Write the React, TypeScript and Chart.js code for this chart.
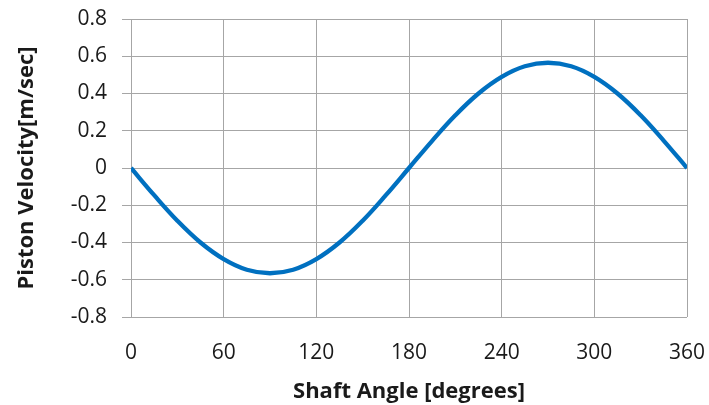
import React, { useEffect, useRef } from "react";
import { Chart, registerables } from "chart.js";

Chart.register(...registerables);

const angles = [0, 15, 30, 45, 60, 75, 90, 105, 120, 135, 150, 165, 180, 195, 210, 225, 240, 255, 270, 285, 300, 315, 330, 345, 360];
const velocity = [0, -0.146, -0.283, -0.4, -0.489, -0.546, -0.565, -0.546, -0.489, -0.4, -0.283, -0.146, 0, 0.146, 0.283, 0.4, 0.489, 0.546, 0.565, 0.546, 0.489, 0.4, 0.283, 0.146, 0];
const xTicks = [0, 60, 120, 180, 240, 300, 360];
const yTicks = [-0.8, -0.6, -0.4, -0.2, 0, 0.2, 0.4, 0.6, 0.8];

const FONT = "'Open Sans', 'DejaVu Sans', sans-serif";

function zeroPad(s: any) {
  s.paddingTop = 0;
  s.paddingBottom = 0;
  s.paddingLeft = 0;
  s.paddingRight = 0;
}

export default function App() {
  const ref = useRef<HTMLCanvasElement>(null);
  useEffect(() => {
    document.body.style.margin = "0";
    const ctx = ref.current!;
    const chart = new Chart(ctx, {
      type: "line",
      data: {
        datasets: [
          {
            data: angles.map((a, i) => ({ x: a, y: velocity[i] })),
            borderColor: "#0070C0",
            borderWidth: 4.3,
            pointRadius: 0,
            tension: 0.4,
            fill: false,
          },
        ],
      },
      options: {
        animation: false,
        responsive: false,
        maintainAspectRatio: false,
        layout: { padding: { top: 19, right: 22, left: 0, bottom: 0 } },
        plugins: { legend: { display: false }, tooltip: { enabled: false } },
        scales: {
          x: {
            type: "linear",
            min: 0,
            max: 360,
            afterBuildTicks: (s: any) => {
              s.ticks = xTicks.map((v) => ({ value: v }));
            },
            afterFit: (s: any) => {
              s.height = 88;
              zeroPad(s);
            },
            grid: { color: "#A6A6A6", lineWidth: 1, drawTicks: false },
            border: { display: false },
            ticks: {
              color: "#1a1a1a",
              font: { family: FONT, size: 21 },
              padding: 23,
              maxRotation: 0,
              callback: (v: any) => String(v),
            },
            title: {
              display: true,
              text: "Shaft Angle [degrees]",
              color: "#1a1a1a",
              font: { family: FONT, size: 22, weight: "bold" },
              padding: { top: 0, bottom: 0 },
            },
          },
          y: {
            type: "linear",
            min: -0.8,
            max: 0.8,
            afterBuildTicks: (s: any) => {
              s.ticks = yTicks.map((v) => ({ value: v }));
            },
            afterFit: (s: any) => {
              s.width = 131;
              zeroPad(s);
            },
            grid: { color: "#A6A6A6", lineWidth: 1, tickLength: 9 },
            border: { display: false },
            ticks: {
              color: "#1a1a1a",
              font: { family: FONT, size: 21 },
              padding: 15,
              callback: (v: any) => {
                const n = Math.round(Number(v) * 10) / 10;
                return n === 0 ? "0" : n.toFixed(1);
              },
            },
            title: {
              display: true,
              text: "Piston Velocity[m/sec]",
              color: "#1a1a1a",
              font: { family: FONT, size: 22, weight: "bold" },
              padding: { top: 14, bottom: 0 },
            },
          },
        },
      },
    });
    return () => chart.destroy();
  }, []);
  return (
    <div style={{ width: 709, height: 405 }}>
      <canvas ref={ref} width={709} height={405} style={{ width: 709, height: 405, display: "block" }} />
    </div>
  );
}
